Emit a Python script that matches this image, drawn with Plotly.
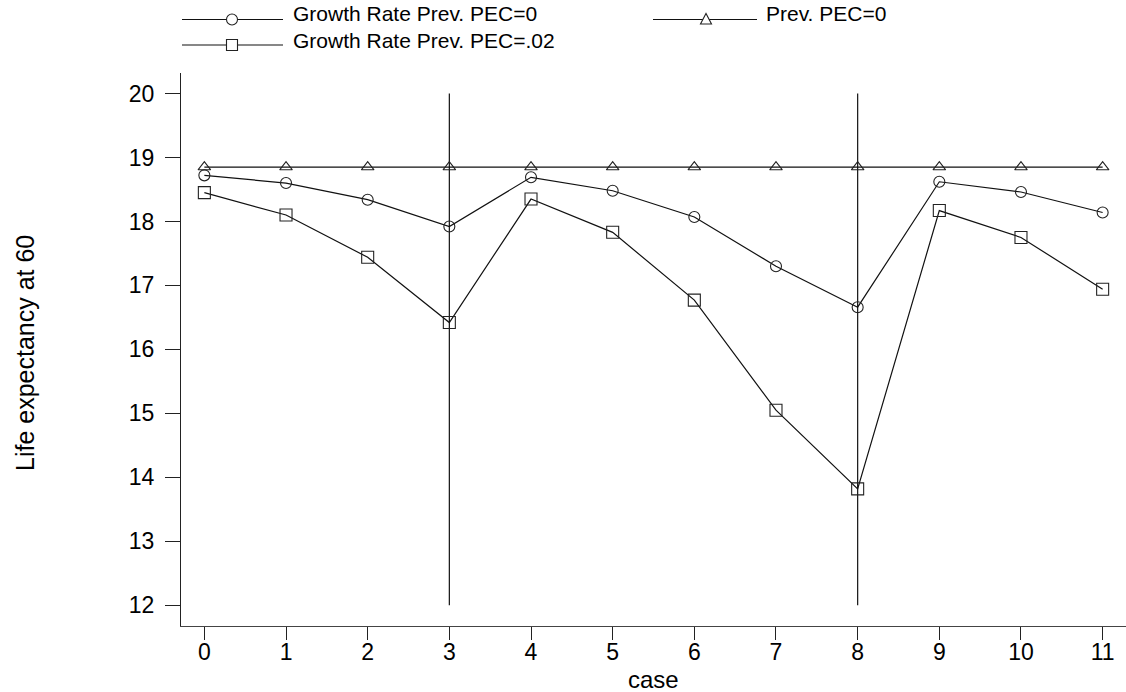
import plotly.graph_objects as go

cases = list(range(12))
growth_pec0 = [18.72, 18.60, 18.34, 17.92, 18.69, 18.48, 18.07, 17.30, 16.66, 18.62, 18.46, 18.14]
prev_pec0 = [18.85] * 12
growth_pec02 = [18.45, 18.10, 17.44, 16.42, 18.35, 17.83, 16.77, 15.05, 13.82, 18.17, 17.75, 16.94]
vlines = [3, 8]
vline_span = [12, 20]
y_ticks = [12, 13, 14, 15, 16, 17, 18, 19, 20]

FONT = "Liberation Sans, Arial, sans-serif"
W, H = 1126, 692
ML, MR, MT, MB = 181, 0, 73, 66
PH = H - MT - MB

fig = go.Figure()
line_style = dict(color="#111", width=1.2)
mk = dict(color="#222", size=11, line=dict(color="#222", width=1.1))

fig.add_trace(go.Scatter(x=cases, y=prev_pec0, mode="lines+markers", line=line_style,
                         marker=dict(mk, symbol="triangle-up-open"), showlegend=False))
fig.add_trace(go.Scatter(x=cases, y=growth_pec0, mode="lines+markers", line=line_style,
                         marker=dict(mk, symbol="circle-open"), showlegend=False))
fig.add_trace(go.Scatter(x=cases, y=growth_pec02, mode="lines+markers", line=line_style,
                         marker=dict(mk, symbol="square-open", size=12), showlegend=False))

for v in vlines:
    fig.add_shape(type="line", xref="x", yref="y", x0=v, x1=v, y0=vline_span[0], y1=vline_span[1],
                  line=dict(color="#111", width=1.2), layer="below")

# manual legend
def py(p):
    return (H - MB - p) / PH

def px(p):
    return (p - ML) / (W - ML - MR)

legend_items = [
    ("Growth Rate Prev. PEC=0", "circle", 182, 283, 232, 19.5, 292, 13.5),
    ("Growth Rate Prev. PEC=.02", "square", 182, 283, 232, 45.0, 292, 40.5),
    ("Prev. PEC=0", "triangle", 653, 757, 706, 19.5, 765, 13.5),
]
for text, sym, lx0, lx1, mxp, ly, tx, ty in legend_items:
    fig.add_shape(type="line", xref="paper", yref="paper", x0=px(lx0), x1=px(lx1), y0=py(ly), y1=py(ly),
                  line=dict(color="#111", width=1.2))
    if sym == "circle":
        fig.add_shape(type="circle", xref="paper", yref="paper", xsizemode="pixel", ysizemode="pixel",
                      xanchor=px(mxp), yanchor=py(ly), x0=-5.5, x1=5.5, y0=-5.5, y1=5.5,
                      fillcolor="white", line=dict(color="#222", width=1.1))
    elif sym == "square":
        fig.add_shape(type="rect", xref="paper", yref="paper", xsizemode="pixel", ysizemode="pixel",
                      xanchor=px(mxp), yanchor=py(ly), x0=-5.5, x1=5.5, y0=-5.5, y1=5.5,
                      fillcolor="white", line=dict(color="#222", width=1.1))
    else:
        fig.add_shape(type="path", xref="paper", yref="paper", xsizemode="pixel", ysizemode="pixel",
                      xanchor=px(mxp), yanchor=py(ly), path="M -5.5,-4.5 L 5.5,-4.5 L 0,6 Z",
                      fillcolor="white", line=dict(color="#222", width=1.1))
    fig.add_annotation(text=text, xref="paper", yref="paper", x=px(tx), y=py(ty), xanchor="left",
                       yanchor="middle", showarrow=False, borderpad=0,
                       font=dict(family=FONT, size=21, color="#000"))

fig.add_annotation(text="Life expectancy at 60", xref="paper", yref="paper", x=px(25), y=py(353),
                   textangle=-90, xanchor="center", yanchor="middle", showarrow=False,
                   font=dict(family=FONT, size=25, color="#000"))
fig.add_annotation(text="case", xref="paper", yref="paper", x=px(653), y=py(679),
                   xanchor="center", yanchor="middle", showarrow=False,
                   font=dict(family=FONT, size=24, color="#000"))

fig.update_layout(
    width=W, height=H, margin=dict(l=ML, r=MR, t=MT, b=MB),
    paper_bgcolor="white", plot_bgcolor="white",
    font=dict(family=FONT, size=23, color="#000"),
    showlegend=False,
    xaxis=dict(range=[-0.286, 11.286], tickvals=cases, ticktext=[str(c) for c in cases],
               showgrid=False, zeroline=False, showline=True, linecolor="#444", linewidth=1.3,
               ticks="outside", ticklen=13, tickwidth=1.2, tickcolor="#222", mirror=False,
               ticklabelstandoff=-8),
    yaxis=dict(range=[11.677, 20.32], tickvals=y_ticks, ticktext=[str(t) for t in y_ticks],
               showgrid=False, zeroline=False, showline=True, linecolor="#222", linewidth=1.3,
               ticks="outside", ticklen=15, tickwidth=1.2, tickcolor="#222", mirror=False,
               ticklabelstandoff=6),
)

fig.write_html("out.html")
